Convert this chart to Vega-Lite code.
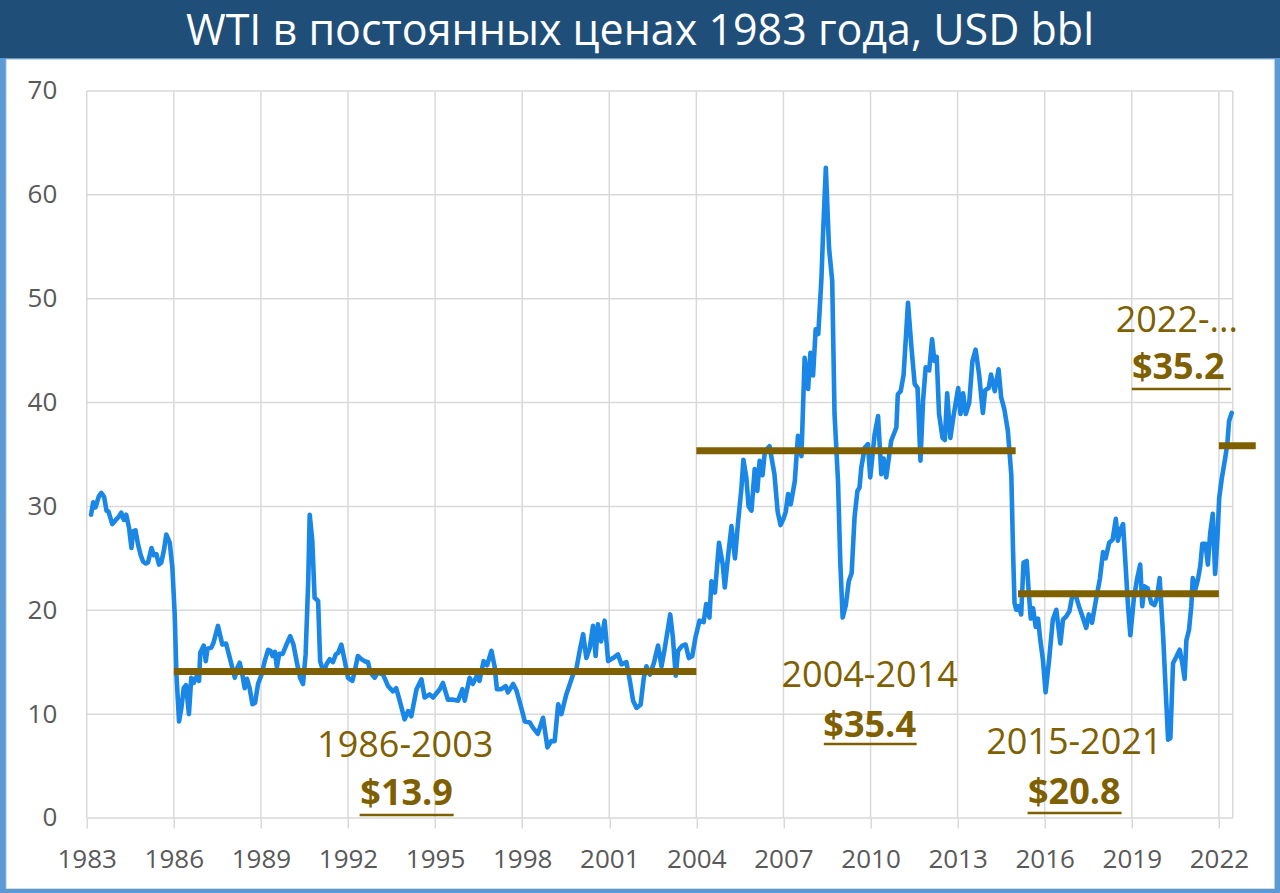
{
  "$schema": "https://vega.github.io/schema/vega-lite/v6.json",
  "background": "#5B9BD5",
  "padding": {"left": 0, "right": 0, "top": 0, "bottom": 6},
  "spacing": 0,
  "center": true,
  "config": {"view": {"stroke": null}, "font": "Open Sans"},
  "datasets": {
    "wti": [
      {"t":1983.15,"v":29.2},{"t":1983.22,"v":30.4},{"t":1983.3,"v":29.9},{"t":1983.42,"v":31.0},{"t":1983.5,"v":31.3},{"t":1983.6,"v":30.9},{"t":1983.68,"v":29.6},{"t":1983.75,"v":29.5},{"t":1983.88,"v":28.3},
      {"t":1984.0,"v":28.7},{"t":1984.1,"v":29.0},{"t":1984.19,"v":29.4},{"t":1984.28,"v":28.7},{"t":1984.36,"v":29.2},{"t":1984.46,"v":27.9},{"t":1984.54,"v":26.0},{"t":1984.6,"v":27.6},{"t":1984.68,"v":27.7},{"t":1984.77,"v":26.3},{"t":1984.86,"v":25.3},{"t":1984.94,"v":24.7},
      {"t":1985.03,"v":24.5},{"t":1985.11,"v":24.6},{"t":1985.23,"v":26.0},{"t":1985.31,"v":25.3},{"t":1985.4,"v":25.4},{"t":1985.49,"v":24.4},{"t":1985.57,"v":24.6},{"t":1985.66,"v":25.8},{"t":1985.74,"v":27.3},{"t":1985.86,"v":26.5},{"t":1985.95,"v":24.1},
      {"t":1986.03,"v":19.6},{"t":1986.09,"v":13.8},{"t":1986.18,"v":9.3},{"t":1986.26,"v":10.6},{"t":1986.34,"v":12.5},{"t":1986.42,"v":12.8},{"t":1986.52,"v":10.0},{"t":1986.6,"v":13.5},{"t":1986.68,"v":13.0},{"t":1986.78,"v":13.6},{"t":1986.87,"v":13.2},{"t":1986.91,"v":15.9},
      {"t":1987.03,"v":16.6},{"t":1987.1,"v":15.1},{"t":1987.16,"v":16.3},{"t":1987.29,"v":16.4},{"t":1987.37,"v":16.9},{"t":1987.52,"v":18.5},{"t":1987.67,"v":16.7},{"t":1987.8,"v":16.8},{"t":1987.93,"v":15.4},
      {"t":1988.1,"v":13.5},{"t":1988.18,"v":14.4},{"t":1988.27,"v":14.95},{"t":1988.36,"v":13.8},{"t":1988.44,"v":12.5},{"t":1988.52,"v":13.4},{"t":1988.61,"v":12.5},{"t":1988.71,"v":10.95},{"t":1988.8,"v":11.1},{"t":1988.9,"v":12.9},
      {"t":1989.02,"v":13.8},{"t":1989.13,"v":15.1},{"t":1989.25,"v":16.2},{"t":1989.33,"v":16.1},{"t":1989.4,"v":15.6},{"t":1989.48,"v":16.0},{"t":1989.55,"v":14.5},{"t":1989.63,"v":15.8},{"t":1989.75,"v":15.8},{"t":1989.88,"v":16.7},
      {"t":1990.01,"v":17.5},{"t":1990.12,"v":16.7},{"t":1990.24,"v":14.95},{"t":1990.35,"v":13.5},{"t":1990.45,"v":12.9},{"t":1990.54,"v":15.75},{"t":1990.63,"v":22.8},{"t":1990.68,"v":29.2},{"t":1990.77,"v":26.7},{"t":1990.85,"v":21.2},{"t":1990.97,"v":20.9},
      {"t":1991.04,"v":15.1},{"t":1991.16,"v":14.0},{"t":1991.26,"v":14.8},{"t":1991.37,"v":15.3},{"t":1991.48,"v":15.0},{"t":1991.58,"v":15.75},{"t":1991.66,"v":15.9},{"t":1991.77,"v":16.7},{"t":1991.89,"v":15.1},
      {"t":1992.0,"v":13.5},{"t":1992.15,"v":13.2},{"t":1992.23,"v":14.1},{"t":1992.34,"v":15.6},{"t":1992.46,"v":15.3},{"t":1992.57,"v":15.1},{"t":1992.69,"v":15.0},{"t":1992.77,"v":14.0},{"t":1992.92,"v":13.5},
      {"t":1993.03,"v":14.0},{"t":1993.21,"v":13.8},{"t":1993.38,"v":12.7},{"t":1993.55,"v":12.2},{"t":1993.66,"v":12.5},{"t":1993.78,"v":11.3},{"t":1993.95,"v":9.5},
      {"t":1994.07,"v":10.3},{"t":1994.18,"v":9.8},{"t":1994.36,"v":12.4},{"t":1994.53,"v":13.35},{"t":1994.64,"v":11.6},{"t":1994.81,"v":11.9},{"t":1994.93,"v":11.6},
      {"t":1995.16,"v":12.4},{"t":1995.27,"v":13.0},{"t":1995.44,"v":11.4},{"t":1995.6,"v":11.4},{"t":1995.79,"v":11.3},{"t":1995.94,"v":12.4},
      {"t":1996.02,"v":11.3},{"t":1996.19,"v":13.5},{"t":1996.3,"v":12.9},{"t":1996.44,"v":13.7},{"t":1996.53,"v":13.2},{"t":1996.67,"v":15.1},{"t":1996.79,"v":14.7},{"t":1996.94,"v":16.1},
      {"t":1997.05,"v":14.6},{"t":1997.13,"v":12.4},{"t":1997.28,"v":12.4},{"t":1997.43,"v":12.7},{"t":1997.51,"v":12.1},{"t":1997.69,"v":12.9},{"t":1997.8,"v":12.3},{"t":1997.97,"v":10.6},
      {"t":1998.09,"v":9.3},{"t":1998.26,"v":9.2},{"t":1998.37,"v":8.7},{"t":1998.54,"v":8.1},{"t":1998.72,"v":9.65},{"t":1998.87,"v":6.8},
      {"t":1999.0,"v":7.4},{"t":1999.12,"v":7.4},{"t":1999.24,"v":10.95},{"t":1999.35,"v":10.0},{"t":1999.52,"v":11.9},{"t":1999.63,"v":12.8},{"t":1999.75,"v":13.8},{"t":1999.87,"v":14.4},{"t":1999.98,"v":16.1},
      {"t":2000.1,"v":17.7},{"t":2000.21,"v":15.4},{"t":2000.33,"v":16.4},{"t":2000.44,"v":18.5},{"t":2000.53,"v":15.6},{"t":2000.61,"v":18.65},{"t":2000.72,"v":17.0},{"t":2000.84,"v":19.0},{"t":2000.96,"v":15.1},
      {"t":2001.13,"v":15.4},{"t":2001.3,"v":15.75},{"t":2001.42,"v":14.8},{"t":2001.59,"v":15.0},{"t":2001.71,"v":13.2},{"t":2001.82,"v":11.3},{"t":2001.94,"v":10.6},
      {"t":2002.08,"v":10.9},{"t":2002.19,"v":13.5},{"t":2002.28,"v":14.6},{"t":2002.4,"v":13.8},{"t":2002.54,"v":14.95},{"t":2002.68,"v":16.6},{"t":2002.8,"v":14.6},{"t":2002.91,"v":16.3},
      {"t":2003.1,"v":19.6},{"t":2003.19,"v":17.4},{"t":2003.29,"v":13.7},{"t":2003.37,"v":16.1},{"t":2003.52,"v":16.6},{"t":2003.63,"v":16.7},{"t":2003.74,"v":15.4},{"t":2003.86,"v":15.6},{"t":2003.97,"v":17.4},
      {"t":2004.11,"v":19.0},{"t":2004.25,"v":18.85},{"t":2004.34,"v":20.6},{"t":2004.45,"v":19.3},{"t":2004.52,"v":22.8},{"t":2004.64,"v":21.7},{"t":2004.78,"v":26.5},{"t":2004.91,"v":24.4},{"t":2004.98,"v":22.2},
      {"t":2005.1,"v":25.4},{"t":2005.21,"v":28.1},{"t":2005.33,"v":25.0},{"t":2005.44,"v":28.6},{"t":2005.55,"v":31.65},{"t":2005.62,"v":34.5},{"t":2005.72,"v":32.8},{"t":2005.8,"v":30.0},{"t":2005.9,"v":29.6},
      {"t":2006.01,"v":33.6},{"t":2006.1,"v":31.5},{"t":2006.18,"v":34.4},{"t":2006.28,"v":33.0},{"t":2006.36,"v":35.3},{"t":2006.52,"v":35.8},{"t":2006.69,"v":33.1},{"t":2006.8,"v":29.5},{"t":2006.9,"v":28.2},
      {"t":2007.0,"v":28.8},{"t":2007.08,"v":29.5},{"t":2007.16,"v":31.2},{"t":2007.25,"v":30.2},{"t":2007.39,"v":32.4},{"t":2007.5,"v":36.8},{"t":2007.62,"v":34.85},{"t":2007.73,"v":44.3},{"t":2007.85,"v":41.3},{"t":2007.93,"v":44.8},
      {"t":2008.02,"v":42.6},{"t":2008.11,"v":47.05},{"t":2008.2,"v":46.6},{"t":2008.31,"v":52.0},{"t":2008.36,"v":55.9},{"t":2008.46,"v":62.6},{"t":2008.57,"v":54.9},{"t":2008.68,"v":51.7},{"t":2008.76,"v":38.9},{"t":2008.88,"v":32.4},{"t":2008.96,"v":24.5},
      {"t":2009.04,"v":19.3},{"t":2009.15,"v":20.5},{"t":2009.25,"v":22.8},{"t":2009.35,"v":23.6},{"t":2009.45,"v":29.0},{"t":2009.55,"v":31.5},{"t":2009.62,"v":31.8},{"t":2009.68,"v":33.7},{"t":2009.8,"v":35.65},{"t":2009.91,"v":36.0},{"t":2009.99,"v":32.8},
      {"t":2010.14,"v":36.9},{"t":2010.26,"v":38.7},{"t":2010.37,"v":33.1},{"t":2010.45,"v":34.6},{"t":2010.54,"v":32.8},{"t":2010.71,"v":36.3},{"t":2010.89,"v":37.6},{"t":2010.94,"v":40.8},
      {"t":2011.04,"v":41.1},{"t":2011.14,"v":42.7},{"t":2011.29,"v":49.6},{"t":2011.41,"v":45.3},{"t":2011.52,"v":41.8},{"t":2011.62,"v":41.4},{"t":2011.72,"v":34.4},{"t":2011.81,"v":40.2},{"t":2011.9,"v":43.4},
      {"t":2012.02,"v":43.1},{"t":2012.12,"v":46.1},{"t":2012.2,"v":44.0},{"t":2012.28,"v":44.4},{"t":2012.36,"v":38.9},{"t":2012.48,"v":36.6},{"t":2012.56,"v":36.4},{"t":2012.64,"v":40.9},{"t":2012.75,"v":36.6},{"t":2012.87,"v":38.9},
      {"t":2013.02,"v":41.4},{"t":2013.1,"v":38.9},{"t":2013.19,"v":40.9},{"t":2013.28,"v":38.9},{"t":2013.4,"v":40.0},{"t":2013.51,"v":44.0},{"t":2013.62,"v":45.1},{"t":2013.74,"v":42.7},{"t":2013.87,"v":39.0},{"t":2013.95,"v":41.2},
      {"t":2014.07,"v":41.4},{"t":2014.15,"v":42.7},{"t":2014.28,"v":41.1},{"t":2014.41,"v":43.2},{"t":2014.5,"v":40.5},{"t":2014.61,"v":39.35},{"t":2014.73,"v":37.3},{"t":2014.85,"v":33.0},{"t":2014.91,"v":25.6},{"t":2014.96,"v":20.7},
      {"t":2015.02,"v":20.05},{"t":2015.1,"v":20.4},{"t":2015.19,"v":19.6},{"t":2015.27,"v":24.6},{"t":2015.38,"v":24.75},{"t":2015.45,"v":21.7},{"t":2015.52,"v":19.2},{"t":2015.6,"v":20.2},{"t":2015.69,"v":18.4},{"t":2015.77,"v":19.2},{"t":2015.85,"v":17.1},{"t":2015.94,"v":15.2},
      {"t":2016.03,"v":12.1},{"t":2016.15,"v":15.2},{"t":2016.28,"v":19.1},{"t":2016.4,"v":20.05},{"t":2016.54,"v":16.8},{"t":2016.63,"v":19.1},{"t":2016.74,"v":19.4},{"t":2016.85,"v":19.9},{"t":2016.97,"v":21.7},
      {"t":2017.07,"v":21.4},{"t":2017.18,"v":20.4},{"t":2017.3,"v":19.4},{"t":2017.43,"v":18.3},{"t":2017.52,"v":19.6},{"t":2017.63,"v":18.8},{"t":2017.76,"v":20.9},{"t":2017.9,"v":23.0},
      {"t":2018.01,"v":25.6},{"t":2018.1,"v":25.0},{"t":2018.22,"v":26.5},{"t":2018.34,"v":26.8},{"t":2018.45,"v":28.8},{"t":2018.52,"v":26.7},{"t":2018.6,"v":27.7},{"t":2018.7,"v":28.3},{"t":2018.78,"v":24.6},{"t":2018.87,"v":20.4},{"t":2018.95,"v":17.6},
      {"t":2019.07,"v":21.1},{"t":2019.18,"v":23.0},{"t":2019.29,"v":24.4},{"t":2019.36,"v":20.4},{"t":2019.44,"v":22.3},{"t":2019.55,"v":22.1},{"t":2019.67,"v":20.7},{"t":2019.78,"v":20.5},{"t":2019.86,"v":21.1},{"t":2019.96,"v":23.1},
      {"t":2020.08,"v":17.5},{"t":2020.19,"v":11.0},{"t":2020.25,"v":7.55},{"t":2020.33,"v":7.7},{"t":2020.42,"v":14.9},{"t":2020.53,"v":15.5},{"t":2020.65,"v":16.2},{"t":2020.74,"v":14.9},{"t":2020.82,"v":13.4},{"t":2020.88,"v":17.1},{"t":2020.97,"v":18.1},
      {"t":2021.05,"v":20.4},{"t":2021.1,"v":23.1},{"t":2021.19,"v":22.0},{"t":2021.28,"v":23.0},{"t":2021.36,"v":24.3},{"t":2021.43,"v":26.4},{"t":2021.54,"v":26.4},{"t":2021.62,"v":24.4},{"t":2021.7,"v":27.4},{"t":2021.79,"v":29.3},{"t":2021.87,"v":23.5},{"t":2021.96,"v":27.5},
      {"t":2022.01,"v":30.8},{"t":2022.1,"v":32.7},{"t":2022.22,"v":34.7},{"t":2022.29,"v":36.0},{"t":2022.35,"v":38.2},{"t":2022.44,"v":39.0}
    ],
    "means": [
      {"period":"1986-2003","t0":1986.0,"t1":2004.0,"v":14.1},
      {"period":"2004-2014","t0":2004.0,"t1":2015.0,"v":35.35},
      {"period":"2015-2021","t0":2015.08,"t1":2022.0,"v":21.6},
      {"period":"2022-...","t0":2022.0,"t1":2023.27,"v":35.85}
    ],
    "periods": [
      {"label":"1986-2003","t":1993.97,"v":6.93},
      {"label":"2004-2014","t":2009.97,"v":13.67},
      {"label":"2015-2021","t":2017.02,"v":7.22},
      {"label":"2022-...","t":2020.55,"v":47.85}
    ],
    "averages": [
      {"label":"$13.9","t":1994.02,"v":2.31},
      {"label":"$35.4","t":2009.97,"v":8.86},
      {"label":"$20.8","t":2017.02,"v":2.41},
      {"label":"$35.2","t":2020.6,"v":43.3}
    ],
    "underlines": [
      {"label":"$13.9","t0":1992.4,"t1":1995.64,"v":0.29},
      {"label":"$35.4","t0":2008.39,"t1":2011.59,"v":7.12},
      {"label":"$20.8","t0":2015.41,"t1":2018.65,"v":0.48},
      {"label":"$35.2","t0":2019.0,"t1":2022.41,"v":41.3}
    ],
    "hgrid": [{"v":0},{"v":10},{"v":20},{"v":30},{"v":40},{"v":50},{"v":60},{"v":70}],
    "vgrid": [{"t":1983},{"t":1986},{"t":1989},{"t":1992},{"t":1995},{"t":1998},{"t":2001},{"t":2004},{"t":2007},{"t":2010},{"t":2013},{"t":2016},{"t":2019},{"t":2022},{"t":2022.48}],
    "titleRow": [{"title":"WTI в постоянных ценах 1983 года, USD bbl"}]
  },
  "vconcat": [
    {
      "width": 1280,
      "height": 58,
      "view": {"fill": "#1F4E79", "stroke": null},
      "data": {"name": "titleRow"},
      "mark": {"type": "text", "color": "white", "font": "Open Sans", "fontSize": 43, "baseline": "alphabetic", "align": "center", "dy": 16},
      "encoding": {"text": {"field": "title", "type": "nominal"}}
    },
    {
      "width": 1268,
      "height": 829,
      "view": {"fill": "white", "stroke": "#D9D9D9", "strokeWidth": 1},
      "layer": [
        {
          "data": {"name": "hgrid"},
          "mark": {"type": "rule", "color": "#D9D9D9", "strokeWidth": 1.5},
          "encoding": {
            "y": {"field": "v", "type": "quantitative", "title": null, "scale": {"domain": [-6.74, 73.08], "nice": false, "zero": false}},
            "x": {"datum": 1983, "type": "quantitative", "title": null, "scale": {"domain": [1980.21, 2023.89], "nice": false, "zero": false}},
            "x2": {"datum": 2022.48}
          }
        },
        {
          "data": {"name": "vgrid"},
          "mark": {"type": "rule", "color": "#D9D9D9", "strokeWidth": 1.5},
          "encoding": {
            "x": {"field": "t", "type": "quantitative", "title": null},
            "y": {"datum": 0, "type": "quantitative", "title": null},
            "y2": {"datum": 70}
          }
        },
        {
          "data": {"name": "wti"},
          "mark": {"type": "line", "color": "#1A87E6", "strokeWidth": 4.6, "strokeJoin": "round", "strokeCap": "round"},
          "encoding": {
            "x": {"field": "t", "type": "quantitative", "title": null,
              "axis": {"values": [1983,1986,1989,1992,1995,1998,2001,2004,2007,2010,2013,2016,2019,2022], "format": "d", "offset": -70, "domain": false, "ticks": true, "tickSize": 10, "tickColor": "#D9D9D9", "tickWidth": 1.5, "labelPadding": 18, "labelFont": "Open Sans", "labelFontSize": 26, "labelColor": "#595959", "grid": false, "labelOverlap": false, "labelFlush": false, "title": null}},
            "y": {"field": "v", "type": "quantitative", "title": null,
              "axis": {"values": [0,10,20,30,40,50,60,70], "offset": -81, "domain": false, "ticks": false, "tickSize": 0, "labelPadding": 30, "labelFont": "Open Sans", "labelFontSize": 26, "labelColor": "#595959", "grid": false, "labelOverlap": false, "labelFlush": false, "title": null}}
          }
        },
        {
          "data": {"name": "means"},
          "mark": {"type": "rule", "color": "#7F6000", "strokeWidth": 7, "strokeCap": "butt"},
          "encoding": {
            "x": {"field": "t0", "type": "quantitative", "title": null},
            "x2": {"field": "t1"},
            "y": {"field": "v", "type": "quantitative", "title": null}
          }
        },
        {
          "data": {"name": "periods"},
          "mark": {"type": "text", "color": "#7F6000", "font": "Open Sans", "fontSize": 36, "baseline": "middle", "align": "center"},
          "encoding": {
            "x": {"field": "t", "type": "quantitative", "title": null},
            "y": {"field": "v", "type": "quantitative", "title": null},
            "text": {"field": "label", "type": "nominal"}
          }
        },
        {
          "data": {"name": "averages"},
          "mark": {"type": "text", "color": "#7F6000", "font": "Open Sans", "fontSize": 36, "fontWeight": "bold", "baseline": "middle", "align": "center"},
          "encoding": {
            "x": {"field": "t", "type": "quantitative", "title": null},
            "y": {"field": "v", "type": "quantitative", "title": null},
            "text": {"field": "label", "type": "nominal"}
          }
        },
        {
          "data": {"name": "underlines"},
          "mark": {"type": "rule", "color": "#7F6000", "strokeWidth": 2.5},
          "encoding": {
            "x": {"field": "t0", "type": "quantitative", "title": null},
            "x2": {"field": "t1"},
            "y": {"field": "v", "type": "quantitative", "title": null}
          }
        }
      ]
    }
  ]
}
